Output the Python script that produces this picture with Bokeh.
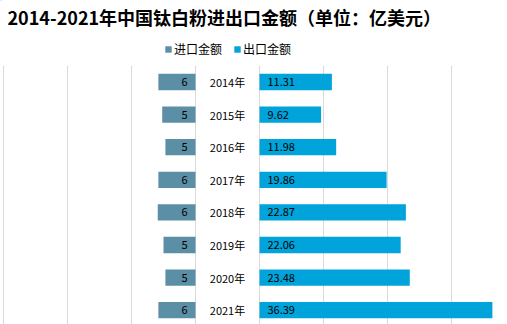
from bokeh.plotting import figure
from bokeh.models import ColumnDataSource, Range1d, FixedTicker, Legend, LegendItem, Label, LabelSet
from bokeh.core.properties import value
from bokeh.layouts import column
from bokeh.embed import file_html
from bokeh.resources import INLINE

# ---- data ----
years = ["2014年", "2015年", "2016年", "2017年", "2018年", "2019年", "2020年", "2021年"]
imports = [5.8, 5.2, 4.7, 5.8, 5.9, 5.0, 4.7, 5.8]
exports = [11.31, 9.62, 11.98, 19.86, 22.87, 22.06, 23.48, 36.39]
title_text = "2014-2021年中国钛白粉进出口金额（单位：亿美元）"
series_names = ["进口金额", "出口金额"]

IMP_COLOR = "#5B8FA6"
EXP_COLOR = "#00A3DA"
FONT = "Noto Sans CJK SC"
GAP = 10  # width of the centre label band, in value units

W = 507
HEADER_H = 65
MAIN_H = 324 - HEADER_H

# ---- header (title + legend) ----
hdr = figure(width=W, height=HEADER_H, output_backend="svg", toolbar_location=None,
             x_range=Range1d(0, W), y_range=Range1d(HEADER_H, 0),
             min_border=0, min_border_left=0, min_border_right=0,
             min_border_top=0, min_border_bottom=0)
hdr.axis.visible = False
hdr.grid.visible = False
hdr.outline_line_color = None

hdr.add_layout(Label(x=7, y=16, text=title_text, text_font=FONT, text_font_style="bold",
                     text_font_size="18px", text_baseline="middle", text_color="#000000"))

# legend-only renderers (their single row lies outside the visible header range)
dummy = ColumnDataSource(dict(y=[-1000], left=[0], right=[1]))
r_imp_dummy = hdr.hbar(y="y", left="left", right="right", height=0.5, source=dummy,
                       fill_color=IMP_COLOR, line_color=None)
r_exp_dummy = hdr.hbar(y="y", left="left", right="right", height=0.5, source=dummy,
                       fill_color=EXP_COLOR, line_color=None)
legend = Legend(items=[LegendItem(label=series_names[0], renderers=[r_imp_dummy]),
                       LegendItem(label=series_names[1], renderers=[r_exp_dummy])],
                orientation="horizontal", location=(164, 8),
                glyph_width=8, glyph_height=8, label_standoff=2, spacing=11,
                padding=0, margin=0, label_height=12,
                label_text_font=FONT, label_text_font_size="12px",
                label_text_color="#000000",
                border_line_color=None, background_fill_alpha=0)
hdr.add_layout(legend)

# ---- main chart ----
n = len(years)
idx = list(range(n))
imp_left = [-GAP - v for v in imports]
imp_right = [-GAP] * n
imp_lbl = [f"{v:.0f}" for v in imports]
exp_lbl = [f"{v:.2f}" for v in exports]

src = ColumnDataSource(dict(y=idx, year=years, imp=imports, exp=exports,
                            imp_left=imp_left, imp_right=imp_right,
                            imp_lbl=imp_lbl, exp_lbl=exp_lbl,
                            zero=[0] * n, mid=[-GAP / 2] * n))

px_per_unit = 6.4
x0_px = 259
top_px = 16.5
row_px = 32.6
p = figure(width=W, height=MAIN_H, output_backend="svg", toolbar_location=None,
           x_range=Range1d(-x0_px / px_per_unit, (W - x0_px) / px_per_unit),
           y_range=Range1d((MAIN_H - top_px) / row_px, -top_px / row_px),
           min_border=0, min_border_left=0, min_border_right=0,
           min_border_top=0, min_border_bottom=0)
p.outline_line_color = None
p.xaxis.visible = False
p.yaxis.visible = False
p.ygrid.visible = False
p.xgrid.ticker = FixedTicker(ticks=[-40, -30, -20, -10, 0, 10, 20, 30])
p.xgrid.grid_line_color = "#D9D9D9"
p.xgrid.grid_line_width = 1

p.hbar(y="y", left="imp_left", right="imp_right", height=0.5, source=src,
       fill_color=IMP_COLOR, line_color=None)
p.hbar(y="y", left="zero", right="exp", height=0.5, source=src,
       fill_color=EXP_COLOR, line_color=None)

common = dict(source=src, text_baseline="middle", text_font=value(FONT),
              text_font_size=value("11px"), text_color="#000000")
p.add_layout(LabelSet(x="imp_right", y="y", text="imp_lbl", x_offset=-8,
                      text_align="right", **common))
p.add_layout(LabelSet(x="zero", y="y", text="exp_lbl", x_offset=8,
                      text_align="left", **common))
p.add_layout(LabelSet(x="mid", y="y", text="year", text_align="center", **common))

layout = column(hdr, p, spacing=0)
open("out.html", "w").write(file_html(layout, INLINE))
